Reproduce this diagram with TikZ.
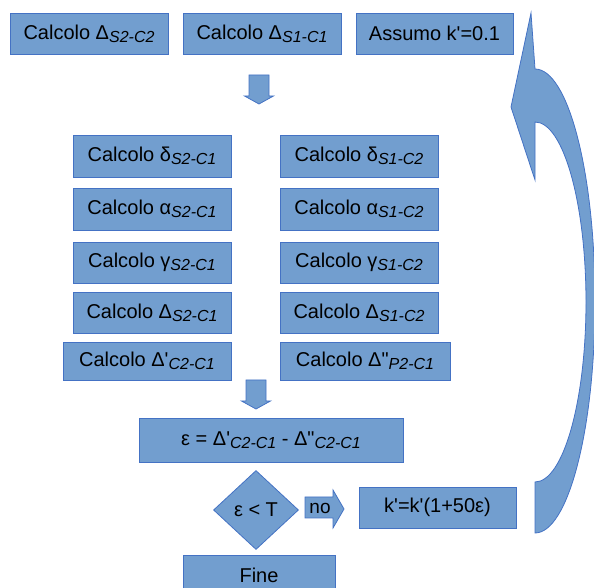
\documentclass[tikz,border=0pt]{standalone}
\usepackage{fontspec}
\setmainfont{Liberation Sans}[Ligatures=TeXOff]
\usetikzlibrary{shapes.geometric}

\definecolor{azzurro}{RGB}{114,158,207}
\definecolor{bordo}{RGB}{68,114,196}
\newcommand{\pedice}[1]{\raisebox{-3pt}{\fontsize{16}{16}\selectfont\itshape #1}}

\begin{document}
\begin{tikzpicture}[x=1pt, y=1pt,
    blocco/.style={rectangle, draw=bordo, fill=azzurro, line width=0.8pt, minimum height=41pt, inner sep=0pt, font=\fontsize{20}{20}\selectfont},
    freccia/.style={draw=bordo, fill=azzurro, line width=0.8pt}]
  \useasboundingbox (0,0) rectangle (594,588);

  % Definizione dei nodi: riga in alto
  \node[blocco, minimum width=158pt] (DS2C2) at (89,554.5) {Calcolo Δ\pedice{S2-C2}};
  \node[blocco, minimum width=158pt] (DS1C1) at (262,554.5) {Calcolo Δ\pedice{S1-C1}};
  \node[blocco, minimum width=157pt] (K0) at (434.5,554.5) {Assumo k'=0.1};

  % Colonna di sinistra
  \node[blocco, minimum width=158pt, minimum height=42pt] (dS2) at (152,432) {Calcolo δ\pedice{S2-C1}};
  \node[blocco, minimum width=158pt, minimum height=42pt] (aS2) at (152,379) {Calcolo α\pedice{S2-C1}};
  \node[blocco, minimum width=158pt] (gS2) at (152,325.5) {Calcolo γ\pedice{S2-C1}};
  \node[blocco, minimum width=158pt] (DS2) at (152,275.5) {Calcolo Δ\pedice{S2-C1}};
  \node[blocco, minimum width=168pt, minimum height=38pt] (D1) at (147,227) {Calcolo Δ'\pedice{C2-C1}};

  % Colonna di destra
  \node[blocco, minimum width=158pt, minimum height=42pt] (dS1) at (359,432) {Calcolo δ\pedice{S1-C2}};
  \node[blocco, minimum width=158pt, minimum height=42pt] (aS1) at (359,379) {Calcolo α\pedice{S1-C2}};
  \node[blocco, minimum width=158pt] (gS1) at (359,325.5) {Calcolo γ\pedice{S1-C2}};
  \node[blocco, minimum width=158pt] (DS1) at (359,275.5) {Calcolo Δ\pedice{S1-C2}};
  \node[blocco, minimum width=170pt, minimum height=38pt] (D2) at (365,227) {Calcolo Δ"\pedice{P2-C1}};

  % Errore, test e aggiornamento
  \node[blocco, minimum width=264pt, minimum height=44pt] (eps) at (271,148) {ε = Δ'\pedice{C2-C1} - Δ"\pedice{C2-C1}};
  \node[diamond, draw=bordo, fill=azzurro, line width=0.8pt, minimum width=85pt, minimum height=79pt, inner sep=0pt, font=\fontsize{20}{20}\selectfont] (test) at (256,78) {ε < T};
  \node[blocco, minimum width=157pt, font=\fontsize{20}{20}\selectfont] (K1) at (437.5,80.5) {k'=k'(1+50ε)};
  \node[blocco, minimum width=152pt, minimum height=40pt] (fine) at (259,13) {Fine};

  % Frecce a blocco
  \draw[freccia] (249,513) -- (249,492) -- (244.5,492) -- (259,484) -- (273.5,492) -- (269,492) -- (269,513) -- cycle; % verso le colonne
  \draw[freccia] (246,208) -- (246,187) -- (241.5,187) -- (256,179) -- (270.5,187) -- (266,187) -- (266,208) -- cycle; % verso epsilon
  \draw[freccia] (305,91) -- (333,91) -- (333,98) -- (344,79) -- (333,60) -- (333,70) -- (305,70) -- cycle; % ramo no
  \node[font=\fontsize{19}{19}\selectfont, inner sep=0pt] (no) at (320,80) {no};

  % Freccia curva di ritorno
  \draw[freccia] (531,575) -- (535,519) arc[start angle=90, end angle=-90, x radius=60, y radius=232]
    -- (535,106) arc[start angle=-90, end angle=90, x radius=51, y radius=180]
    -- (535,408) -- (511,481) -- cycle;
\end{tikzpicture}
\end{document}
